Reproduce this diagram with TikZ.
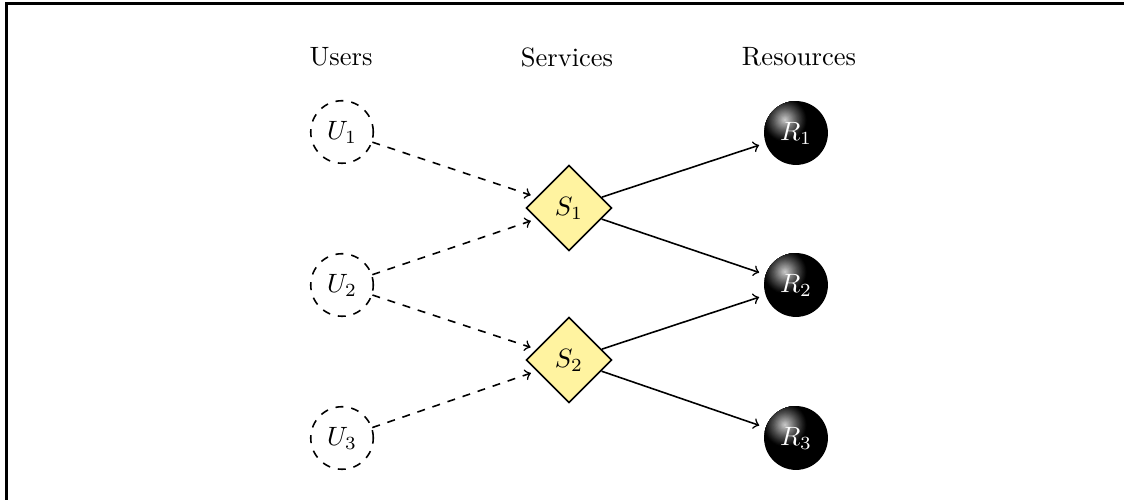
\documentclass[tikz,border=0pt]{standalone}
\usetikzlibrary{shapes.geometric}
\definecolor{svcfill}{RGB}{255,243,160}
\begin{document}
\begin{tikzpicture}[x=0.3774pt,y=-0.3774pt,
  user/.style={circle,draw,dashed,semithick,minimum size=23.6pt,inner sep=0pt},
  service/.style={diamond,draw,semithick,fill=svcfill,minimum size=32.4pt,inner sep=0pt},
  resource/.style={circle,fill=black,text=white,minimum size=24.1pt,inner sep=0pt,
    path picture={
      \foreach \i in {0,...,36}{
        \pgfmathsetmacro\tt{\i/37}
        \pgfmathsetmacro\rr{0.7*(1-\tt)}
        \pgfmathsetmacro\bb{82*\tt*\tt^0.2+0.0001}
        \fill[white!\bb!black] ([shift={(-4.1pt,4.9pt)}]path picture bounding box.center) circle (\rr*12.05pt);
      }
    }},
  header/.style={inner sep=0pt},
  uarrow/.style={->,dashed,semithick,shorten >=2.2pt},
  rarrow/.style={->,semithick,shorten >=2.4pt}]
\useasboundingbox (0,0) rectangle (1124,500);
\draw[line width=0.8pt] (6.5,500) -- (6.5,3.5) -- (1124,3.5);
\node[header] (hu) at (341,57) {Users};
\node[header] (hs) at (567,57) {Services};
\node[header] (hr) at (799,57) {Resources};
\node[user] (u1) at (342,132) {$U_1$};
\node[user] (u2) at (342,285) {$U_2$};
\node[user] (u3) at (342,438) {$U_3$};
\node[service] (s1) at (569,208) {$S_1$};
\node[service] (s2) at (569,360) {$S_2$};
\node[resource] (r1) at (796,133) {$R_1$};
\node[resource] (r2) at (796,285) {$R_2$};
\node[resource] (r3) at (796,438) {$R_3$};
\draw[uarrow] (u1) -- (s1);
\draw[uarrow] (u2) -- (s1);
\draw[uarrow] (u2) -- (s2);
\draw[uarrow] (u3) -- (s2);
\draw[rarrow] (s1) -- (r1);
\draw[rarrow] (s1) -- (r2);
\draw[rarrow] (s2) -- (r2);
\draw[rarrow] (s2) -- (r3);
\end{tikzpicture}
\end{document}
